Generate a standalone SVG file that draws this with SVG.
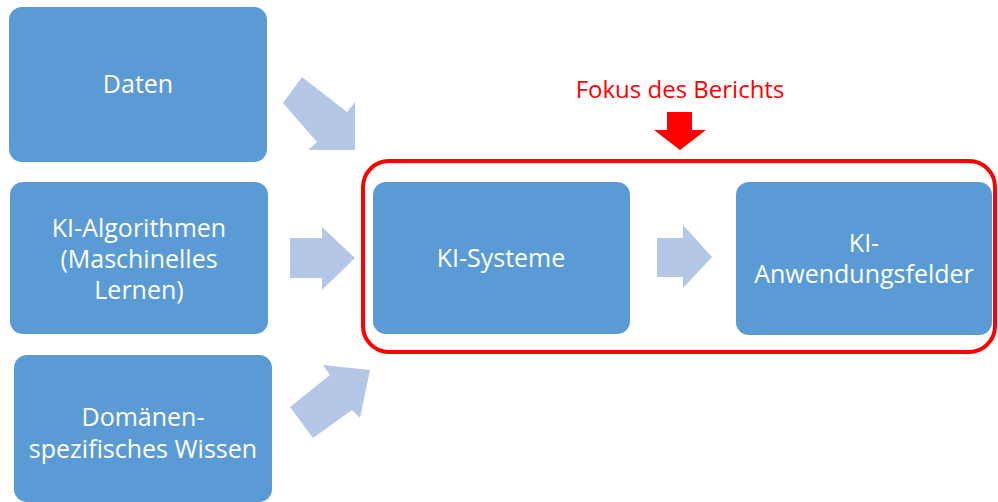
<svg xmlns="http://www.w3.org/2000/svg" width="998" height="502" viewBox="0 0 998 502">
<style>
.box{fill:#5b9bd5}
.lbl{fill:#ffffff;font-family:"Open Sans","Noto Sans",sans-serif;font-size:25px;text-anchor:middle}
.arr{fill:#b4c7e7}
</style>
<rect width="998" height="502" fill="#ffffff"/>
<g id="daten"><rect class="box" x="9" y="7" width="258" height="155" rx="13"/><text class="lbl" x="138" y="93">Daten</text></g>
<g id="algorithmen"><rect class="box" x="10" y="182" width="258" height="152" rx="13"/><text class="lbl" x="139" y="237">KI-Algorithmen</text><text class="lbl" x="139" y="268">(Maschinelles</text><text class="lbl" x="139" y="299">Lernen)</text></g>
<g id="wissen"><rect class="box" x="14" y="355" width="258" height="147" rx="13"/><text class="lbl" x="143" y="426">Domänen-</text><text class="lbl" x="143" y="458" font-size="24.5">spezifisches Wissen</text></g>
<g id="fokus"><rect x="363" y="161" width="632" height="191" rx="26" fill="none" stroke="#ff0000" stroke-width="4"/><text x="680" y="98" fill="#ff0000" font-family="'Open Sans','Noto Sans',sans-serif" font-size="24" text-anchor="middle">Fokus des Berichts</text><polygon points="667,112 692,112 692,130 706,130 680,150 654,130 667,130" fill="#ff0000"/></g>
<g id="systeme"><rect class="box" x="373" y="182" width="257" height="152" rx="13"/><text class="lbl" x="501" y="267">KI-Systeme</text></g>
<g id="anwendungsfelder"><rect class="box" x="736" y="182" width="256" height="153" rx="13"/><text class="lbl" x="864" y="252">KI-</text><text class="lbl" x="864" y="283" font-size="25.5">Anwendungsfelder</text></g>
<g id="connectors">
<polygon class="arr" points="302,77 347,112 355,102 355,150 308,150 317,142 283,103"/>
<polygon class="arr" points="290,238 322,238 322,227 355,258 322,290 322,278 290,278"/>
<polygon class="arr" points="290,407 330,375 323,365 370,370 360,418 352,410 313,438"/>
<polygon class="arr" points="657,238 683,238 683,225 712,257 683,288 683,277 657,277"/>
</g>
</svg>
